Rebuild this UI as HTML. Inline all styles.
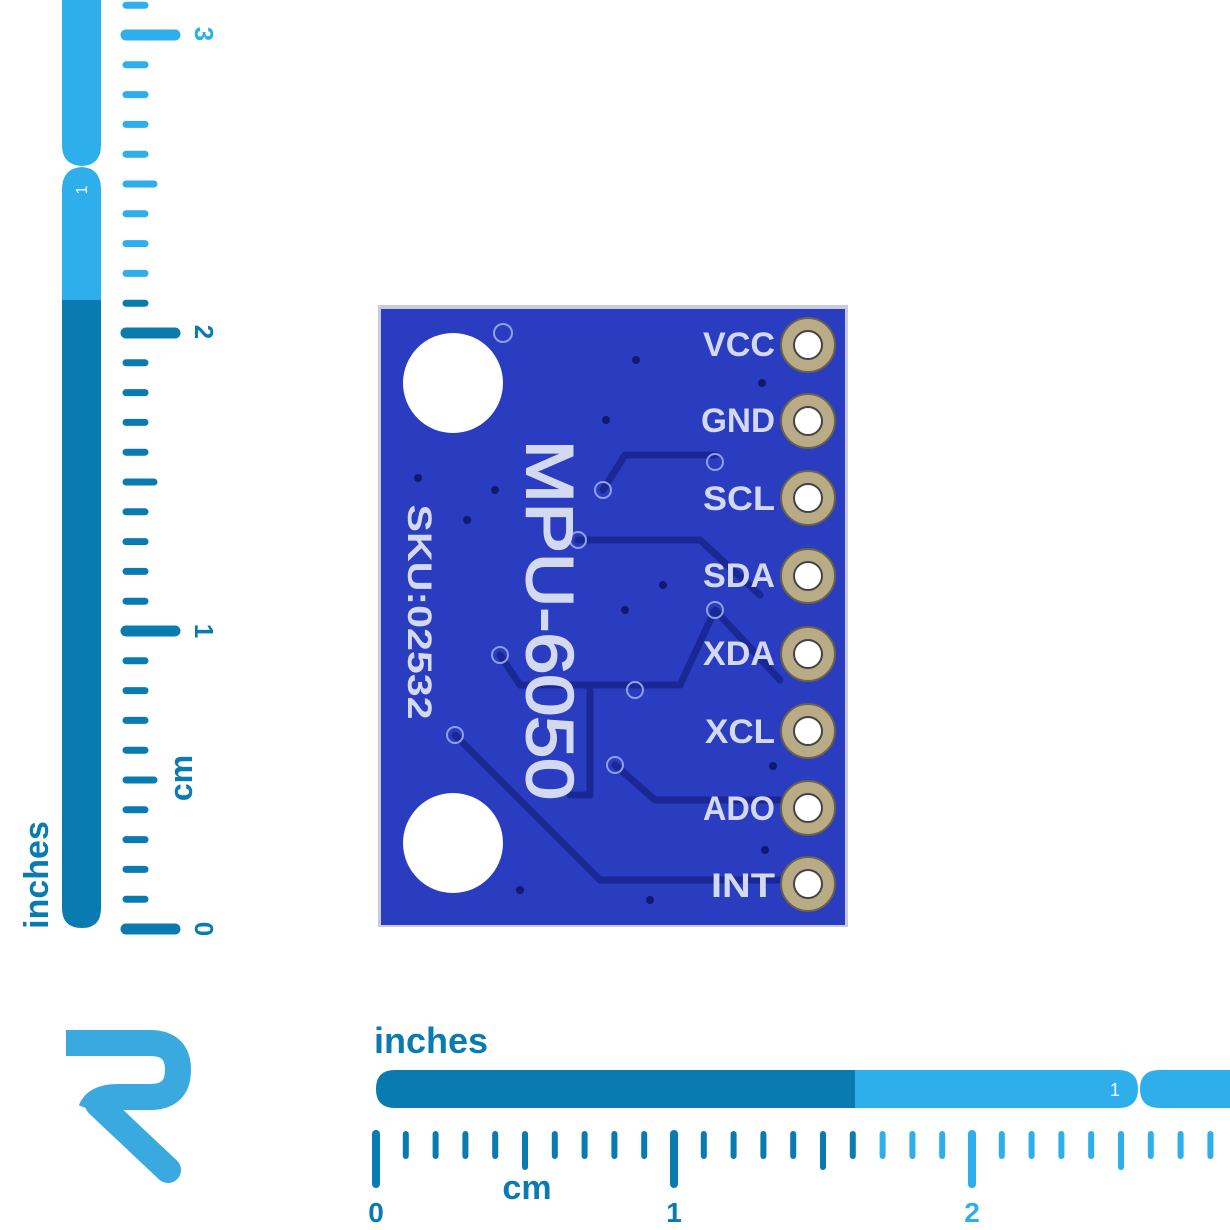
<!DOCTYPE html>
<html><head><style>
html,body{margin:0;padding:0;background:#fff;}
svg{display:block;}
text{font-family:"Liberation Sans",sans-serif;}
</style></head><body>
<svg width="1230" height="1230" viewBox="0 0 1230 1230" xmlns="http://www.w3.org/2000/svg">
<path d="M62 0 H101 V145 Q101 165 82 166 Q62 165 62 145 Z" fill="#2eaeea"/>
<path d="M62 190 Q62 168 82 167 Q101 168 101 190 V300 H62 Z" fill="#2eaeea"/>
<path d="M62 300 H101 V908 Q101 928 82 928 Q62 928 62 908 Z" fill="#0a7bb0"/>
<text x="0" y="0" transform="translate(87,190) rotate(-90)" font-size="16" fill="#fff" text-anchor="middle">1</text>
<g id="vt" stroke-linecap="round"></g>
<text transform="translate(48,875) rotate(-90)" font-size="34" font-weight="bold" fill="#0a7bb0" text-anchor="middle">inches</text>
<text transform="translate(192,778) rotate(-90)" font-size="32" font-weight="bold" fill="#0a7bb0" text-anchor="middle">cm</text>
<g font-size="26" font-weight="bold" text-anchor="middle">
<text transform="translate(195,929) rotate(90)" fill="#0a7bb0">0</text>
<text transform="translate(195,631) rotate(90)" fill="#0a7bb0">1</text>
<text transform="translate(195,332) rotate(90)" fill="#0a7bb0">2</text>
<text transform="translate(195,34) rotate(90)" fill="#2eaeea">3</text>
</g>

<path d="M395 1070 H855 V1108 H395 Q376 1108 376 1089 Q376 1070 395 1070 Z" fill="#0a7bb0"/>
<path d="M855 1070 H1118 Q1138 1070 1138 1089 Q1138 1108 1118 1108 H855 Z" fill="#2eaeea"/>
<path d="M1160 1070 H1230 V1108 H1160 Q1140 1108 1140 1089 Q1140 1070 1160 1070 Z" fill="#2eaeea"/>
<text x="1115" y="1096" font-size="18" fill="#fff" text-anchor="middle">1</text>
<text x="374" y="1053" font-size="36" font-weight="bold" fill="#0a7bb0">inches</text>
<text x="527" y="1199" font-size="34" font-weight="bold" fill="#0a7bb0" text-anchor="middle">cm</text>
<g font-size="28" font-weight="bold" text-anchor="middle">
<text x="376" y="1222" fill="#0a7bb0">0</text>
<text x="674" y="1222" fill="#0a7bb0">1</text>
<text x="972" y="1222" fill="#2eaeea">2</text>
</g>
<g id="ht" stroke-linecap="round"></g>

<g fill="none" stroke="#3aa9e0" stroke-width="26">
<path d="M66 1043 H150 Q178 1043 178 1070 Q178 1097 150 1097 H118 Q96 1097 91 1110"/>
<path d="M98 1104 L168 1170" stroke-linecap="round"/>
</g>

<rect x="378" y="305" width="470" height="622" fill="#c9ccd8"/>
<rect x="381" y="309" width="464" height="616" fill="#2a3cc0"/>
<g fill="#fff">
<circle cx="453" cy="383" r="50"/>
<circle cx="453" cy="843" r="50"/>
</g>
<g fill="none" stroke="#1a2896" stroke-width="7" stroke-linecap="round" stroke-linejoin="round">
<path d="M603 490 L625 455 H715"/>
<path d="M578 540 H700 L760 595"/>
<path d="M500 655 L520 685 H680 L715 610 L780 680"/>
<path d="M590 690 V795 H570"/>
<path d="M615 765 L655 800 H780"/>
<path d="M455 735 L600 880 H780"/>
</g>
<g fill="none" stroke="#8fa0e8" stroke-width="2">
<circle cx="603" cy="490" r="8"/><circle cx="715" cy="462" r="8"/>
<circle cx="578" cy="540" r="8"/><circle cx="500" cy="655" r="8"/>
<circle cx="635" cy="690" r="8"/><circle cx="715" cy="610" r="8"/>
<circle cx="615" cy="765" r="8"/><circle cx="455" cy="735" r="8"/>
<circle cx="503" cy="333" r="9"/>
</g>
<g fill="#101a70">
<circle cx="636" cy="360" r="4"/><circle cx="606" cy="420" r="4"/><circle cx="762" cy="383" r="4"/>
<circle cx="495" cy="490" r="4"/><circle cx="418" cy="478" r="4"/><circle cx="467" cy="520" r="4"/>
<circle cx="663" cy="585" r="4"/><circle cx="625" cy="610" r="4"/><circle cx="773" cy="766" r="4"/>
<circle cx="520" cy="890" r="4"/><circle cx="650" cy="900" r="4"/><circle cx="765" cy="850" r="4"/>
</g>
<g font-size="34" font-weight="bold" fill="#d4d9f2" text-anchor="end">
<text x="775" y="356" textLength="72" lengthAdjust="spacingAndGlyphs">VCC</text>
<text x="775" y="432" textLength="74" lengthAdjust="spacingAndGlyphs">GND</text>
<text x="775" y="510" textLength="72" lengthAdjust="spacingAndGlyphs">SCL</text>
<text x="775" y="587" textLength="72" lengthAdjust="spacingAndGlyphs">SDA</text>
<text x="775" y="665" textLength="72" lengthAdjust="spacingAndGlyphs">XDA</text>
<text x="775" y="743" textLength="70" lengthAdjust="spacingAndGlyphs">XCL</text>
<text x="775" y="820" textLength="72" lengthAdjust="spacingAndGlyphs">ADO</text>
<text x="775" y="897" textLength="64" lengthAdjust="spacingAndGlyphs">INT</text>
</g>
<g fill="#b8ab86" stroke="#6b6248" stroke-width="2">
<circle cx="808" cy="345" r="27"/><circle cx="808" cy="421" r="27"/><circle cx="808" cy="498" r="27"/>
<circle cx="808" cy="576" r="27"/><circle cx="808" cy="654" r="27"/><circle cx="808" cy="731" r="27"/>
<circle cx="808" cy="808" r="27"/><circle cx="808" cy="884" r="27"/>
</g>
<g fill="#fff" stroke="#444" stroke-width="2">
<circle cx="808" cy="345" r="14"/><circle cx="808" cy="421" r="14"/><circle cx="808" cy="498" r="14"/>
<circle cx="808" cy="576" r="14"/><circle cx="808" cy="654" r="14"/><circle cx="808" cy="731" r="14"/>
<circle cx="808" cy="808" r="14"/><circle cx="808" cy="884" r="14"/>
</g>
<text transform="translate(527,620) rotate(90)" font-size="66" fill="#d4d9f2" text-anchor="middle" stroke="#d4d9f2" stroke-width="2" textLength="360" lengthAdjust="spacingAndGlyphs">MPU-6050</text>
<text transform="translate(408,612) rotate(90)" font-size="34" font-weight="bold" fill="#d4d9f2" text-anchor="middle" textLength="215" lengthAdjust="spacingAndGlyphs">SKU:02532</text>
</svg>
<script>
var ns="http://www.w3.org/2000/svg";
var vt=document.getElementById("vt"),ht=document.getElementById("ht");
for(var i=0;i<=32;i++){
 var y=929-29.8*i; if(y<-5)break;
 var len=i%10==0?55:(i%5==0?34:25);
 var w=i%10==0?11:7;
 var c=y<300?"#2eaeea":"#0a7bb0";
 var l=document.createElementNS(ns,"line");
 l.setAttribute("x1",126);l.setAttribute("x2",126+len-6);l.setAttribute("y1",y);l.setAttribute("y2",y);
 l.setAttribute("stroke",c);l.setAttribute("stroke-width",w);vt.appendChild(l);
}
for(var i=0;i<=29;i++){
 var x=376+29.8*i; if(x>1228)break;
 var len=i%10==0?50:(i%5==0?33:22);
 var w=i%10==0?8:6;
 var c=x<855?"#0a7bb0":"#2eaeea";
 var l=document.createElementNS(ns,"line");
 l.setAttribute("x1",x);l.setAttribute("x2",x);l.setAttribute("y1",1134);l.setAttribute("y2",1134+len);
 l.setAttribute("stroke",c);l.setAttribute("stroke-width",w);ht.appendChild(l);
}
</script>
</body></html>
